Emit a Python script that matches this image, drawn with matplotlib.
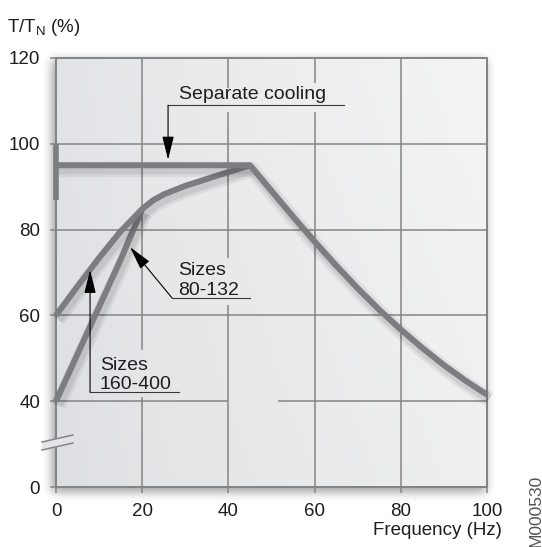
import numpy as np
import matplotlib
matplotlib.use("Agg")
import matplotlib.pyplot as plt
from matplotlib import patheffects as pe
from matplotlib.patches import Polygon

plt.rcParams['font.family'] = ['Liberation Sans', 'DejaVu Sans']
plt.rcParams['mathtext.fontset'] = 'custom'
plt.rcParams['mathtext.rm'] = 'Liberation Sans'
plt.rcParams['mathtext.it'] = 'Liberation Sans:italic'

# ---- data -------------------------------------------------------------
# Separate cooling: constant torque up to the knee, then falling off
sep_freq = [0, 45, 50, 55, 60, 65, 70, 75, 80, 85, 90, 95, 100]
sep_torque = [95, 95, 89, 83, 77.2, 71.6, 66.3, 61.3, 56.7, 52.4, 48.4, 44.8, 41.5]
sep_cap_torque = [100, 87]          # short bar at 0 Hz

# Self-ventilated curve starting at 60 %
upper_freq = [0, 5, 10, 15, 20, 22.5, 25, 30, 35, 40, 45]
upper_torque = [60, 66.8, 73.4, 79.6, 84.8, 86.8, 88.2, 90.2, 91.8, 93.4, 95]

# Self-ventilated curve starting at 40 %
lower_freq = [0, 5, 10, 15, 20]
lower_torque = [40, 51, 62, 73, 84.8]

x_ticks = [0, 20, 40, 60, 80, 100]
y_ticks = [0, 40, 60, 80, 100, 120]

GRID = '#858585'
CURVE = '#7b7d80'
TEXT = '#1e1e1e'

W, H = 542, 547
fig = plt.figure(figsize=(W / 100, H / 100), dpi=100)
L, R, T, B = 56, 487, 58, 487
ax = fig.add_axes([L / W, 1 - B / H, (R - L) / W, (B - T) / H])


# broken value axis: 0..40 squeezed into the height of one 20 % step
def fwd(y):
    y = np.asarray(y, float)
    return np.where(y >= 40, y, 20 + y / 2)


def inv(y):
    y = np.asarray(y, float)
    return np.where(y >= 40, y, (y - 20) * 2)


ax.set_yscale('function', functions=(fwd, inv))
ax.set_xlim(0, 100)
ax.set_ylim(0, 120)
ax.set_facecolor('none')

# soft drop shadow around the plotting panel
yy, xx = np.mgrid[0:H, 0:W]
mask = ((xx >= L - 4) & (xx <= R - 2) & (yy >= T + 2) & (yy <= B + 4)).astype(float)
sig = 5.0
k = np.exp(-0.5 * (np.arange(-16, 17) / sig) ** 2)
k /= k.sum()
mask = np.apply_along_axis(lambda r: np.convolve(r, k, mode='same'), 1, mask)
mask = np.apply_along_axis(lambda c: np.convolve(c, k, mode='same'), 0, mask)
shadow = np.zeros((H, W, 4))
shadow[..., 3] = mask * 0.38
fig.figimage(shadow, 0, 0, origin='upper', zorder=-5)

# panel background: light grey, brightening towards the right
gx = np.linspace(0, 1, 300)[None, :]
gy = np.linspace(0, 1, 300)[:, None]
left_c = np.array([0xe1, 0xe4, 0xe7]) / 255
right_c = np.array([0xf4, 0xf4, 0xf4]) / 255
t = gx ** 0.8
grad = left_c[None, None, :] * (1 - t[..., None]) + right_c[None, None, :] * t[..., None]
grad = grad * (1 - 0.02 * gy[..., None])
grad = np.broadcast_to(grad, (300, 300, 3))
ax.imshow(grad, extent=[0, 1, 0, 1], transform=ax.transAxes, aspect='auto',
          zorder=0, origin='upper')


# grid, with openings where labels sit
def vseg(x, segs):
    for y0, y1 in segs:
        ax.plot([x, x], [y0, y1], color=GRID, lw=1.1, zorder=1, solid_capstyle='butt')


def hseg(y, segs):
    for x0, x1 in segs:
        ax.plot([x0, x1], [y, y], color=GRID, lw=1.1, zorder=1, solid_capstyle='butt')


vseg(20, [(0, 41), (52, 120)])
vseg(40, [(0, 62.4), (73.4, 107.4), (113, 120)])
vseg(60, [(0, 107.4), (114.2, 120)])
vseg(80, [(0, 120)])
hseg(40, [(0, 40), (51.4, 100)])
hseg(60, [(0, 100)])
hseg(80, [(0, 100)])
hseg(100, [(0, 100)])

for s in ax.spines.values():
    s.set_color(GRID)
    s.set_linewidth(1.45)
    s.set_zorder(2)

ax.set_xticks(x_ticks)
ax.set_yticks(y_ticks)
ax.set_xticklabels([str(v) for v in x_ticks])
ax.set_yticklabels([str(v) for v in y_ticks])
ax.tick_params(direction='out', length=4.5, width=1.1, color=GRID,
               labelsize=13.5, labelcolor=TEXT)
ax.tick_params(axis='y', pad=7)
ax.tick_params(axis='x', pad=7)
ax.minorticks_off()

# axis-break marks on the value axis
bg = (0.885, 0.895, 0.905)
gap = Polygon([(-0.0325, 0.1049), (0.0394, 0.1212), (0.0394, 0.1026), (-0.0325, 0.0862)],
              closed=True, transform=ax.transAxes, facecolor=bg, edgecolor='none',
              clip_on=False, zorder=3)
ax.add_patch(gap)
for y0, y1 in [(0.1049, 0.1212), (0.0862, 0.1026)]:
    ax.plot([-0.0325, 0.0394], [y0, y1], color=GRID, lw=1.1, transform=ax.transAxes,
            clip_on=False, zorder=4)

# curves with soft shadows
shadow_fx = [
    pe.SimpleLineShadow(offset=(1.5, -3), shadow_color='k', alpha=0.06, linewidth=11),
    pe.SimpleLineShadow(offset=(1.5, -3), shadow_color='k', alpha=0.08, linewidth=7),
    pe.Normal(),
]
kw = dict(color=CURVE, lw=4.3, solid_capstyle='butt', solid_joinstyle='round',
          zorder=5, path_effects=shadow_fx, clip_on=False)
ax.plot(lower_freq, lower_torque, **kw)
ax.plot(upper_freq, upper_torque, **kw)
ax.plot(sep_freq, sep_torque, **kw)
ax.plot([0, 0], sep_cap_torque, color=CURVE, lw=4.0, solid_capstyle='butt', zorder=5,
        clip_on=False)

# callouts
LINE = '#3a3a3a'
arrow = dict(arrowstyle='-|>,head_length=1.45,head_width=0.36', color='black',
             lw=0.8, shrinkA=0, shrinkB=0, mutation_scale=10)

ax.text(28.5, 110.4, 'Separate cooling', fontsize=14, color=TEXT, va='baseline',
        ha='left', zorder=6)
ax.plot([26, 66.8], [109, 109], color=LINE, lw=0.8, zorder=6)
ax.annotate('', xy=(26, 96.3), xytext=(26, 109), arrowprops=arrow, zorder=6)

ax.text(28.3, 69.4, 'Sizes', fontsize=14, color=TEXT, va='baseline', ha='left', zorder=6)
ax.text(28.3, 64.8, '80-132', fontsize=14, color=TEXT, va='baseline', ha='left', zorder=6)
ax.plot([26.9, 45], [64.1, 64.1], color=LINE, lw=0.8, zorder=6)
ax.annotate('', xy=(17.2, 75.9), xytext=(26.9, 64.1), arrowprops=arrow, zorder=6)

ax.text(10.2, 47.3, 'Sizes', fontsize=14, color=TEXT, va='baseline', ha='left', zorder=6)
ax.text(10.2, 42.8, '160-400', fontsize=14, color=TEXT, va='baseline', ha='left', zorder=6)
ax.plot([7.9, 28.5], [42.1, 42.1], color=LINE, lw=0.8, zorder=6)
ax.annotate('', xy=(7.9, 70.6), xytext=(7.9, 42.1), arrowprops=arrow, zorder=6)

# axis titles
fig.text(7 / W, 1 - 32 / H, r'T/T$_\mathregular{N}$ (%)', fontsize=13.5, color=TEXT,
         ha='left', va='baseline')
fig.text(502 / W, 1 - 535 / H, 'Frequency (Hz)', fontsize=13.5, color=TEXT,
         ha='right', va='baseline')
fig.text(536 / W, 0.0, 'M000530', fontsize=12.5, color='#555555', rotation=90,
         ha='center', va='bottom')

fig.savefig('out.png', dpi=100)
